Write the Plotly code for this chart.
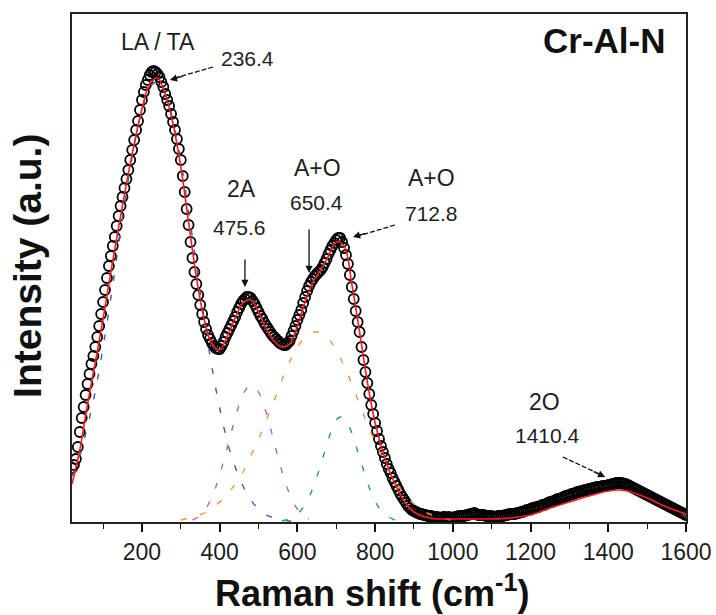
import plotly.graph_objects as go

# ---- measured spectrum (Raman shift cm-1, intensity a.u.) ----
shift = list(range(20, 1601, 5))
intensity = [
    54, 57, 63, 75, 90, 104, 115, 127, 138, 148, 158, 166, 175, 185, 196, 208, 220, 232, 244, 256,   # 20-115
    266, 276, 285, 296, 306, 316, 325, 334, 343, 352, 362, 372, 382, 392, 401, 412, 422, 430, 437, 442,  # 120-215
    447, 450, 451, 450, 448, 445, 440, 435, 428, 422, 416, 408, 400, 392, 383, 373, 362, 346, 330, 313,  # 220-315
    297, 280, 264, 250, 238, 227, 217, 208, 200, 193, 187, 183, 179, 176, 174, 173, 173, 176, 180, 185,  # 320-415
    189, 193, 197, 201, 205, 210, 214, 218, 221, 223, 225, 225, 224, 221, 218, 214, 210, 206, 203, 199,  # 420-515
    196, 193, 190, 187, 185, 183, 181, 179, 178, 177, 177, 179, 181, 186, 191, 196, 202, 207, 212, 219,  # 520-615
    225, 231, 236, 240, 243, 246, 248, 250, 252, 255, 259, 263, 268, 272, 276, 279, 282, 284, 284, 280,  # 620-715
    274, 267, 258, 247, 235, 223, 211, 200, 190, 175, 162, 150, 139, 128, 117, 108, 99, 91, 83, 76,      # 720-815
    70, 64, 58, 53, 49, 44, 40, 36, 32, 28, 25, 22, 19, 16, 14, 12, 11, 10, 9, 8,                        # 820-915
    8, 7, 7, 6, 6, 6, 5, 5, 5, 4, 4, 5, 5, 4, 5, 4, 4, 5, 5, 6,                                          # 920-1015
    6, 6, 6, 7, 7, 8, 8, 9, 8, 7, 7, 7, 7, 6, 6, 6, 6, 5, 5, 6,                                          # 1020-1115
    6, 6, 6, 7, 7, 8, 8, 8, 8, 9, 9, 10, 10, 11, 12, 12, 13, 14, 14, 15,                                 # 1120-1215
    15, 16, 17, 17, 18, 19, 20, 20, 21, 22, 23, 23, 24, 25, 26, 26, 27, 28, 28, 29,                      # 1220-1315
    30, 30, 31, 31, 32, 32, 33, 33, 34, 34, 35, 35, 35, 36, 36, 36, 37, 37, 38, 38,                      # 1320-1415
    39, 39, 39, 39, 38, 38, 37, 36, 35, 34, 33, 32, 31, 30, 29, 28, 27, 26, 25, 24,                      # 1420-1515
    23, 22, 21, 20, 19, 18, 17, 16, 15, 14, 13, 12, 11, 10, 9, 8, 7,                                     # 1520-1600
]

# ---- cumulative fit (red) ----
fit_x = [20, 40, 60, 80, 100, 120, 140, 160, 180, 200, 220, 240, 260, 280, 300,
         320, 340, 360, 380, 400, 420, 440, 460, 480, 500, 520, 540, 560, 580, 600,
         620, 640, 660, 680, 700, 720, 740, 760, 780, 800, 820, 840, 860, 880, 900,
         920, 940, 960, 980, 1000, 1050, 1100, 1150, 1200, 1250, 1300, 1350, 1400,
         1425, 1450, 1500, 1550, 1600]
fit_y = [38, 72, 118, 160, 203, 250, 295, 338, 378, 413, 438, 444, 428, 398, 355,
         300, 245, 203, 178, 172, 186, 204, 219, 222, 210, 193, 181, 175, 178, 196,
         220, 240, 252, 266, 280, 276, 238, 190, 140, 99, 70, 48, 31, 18, 10,
         6, 4, 3, 3, 3, 3, 3, 4, 7, 14, 20, 26, 31,
         32, 31, 24, 15, 8]

# ---- component peaks (dashed) ----
la_x = [20, 40, 60, 80, 100, 120, 140, 160, 180, 200, 220, 240, 260, 280, 300,
        320, 340, 360, 380, 400, 420, 440, 460, 480, 500, 520, 540, 560, 580, 600]
la_y = [46, 66, 96, 131, 175, 224, 278, 330, 376, 412, 435, 440, 428, 401, 361,
        311, 257, 204, 155, 114, 80, 55, 36, 22, 13, 7, 4, 2, 1, 0]

a2_x = list(range(330, 631, 10))
a2_y = [2, 4, 7, 11, 17, 25, 35, 47, 61, 75, 90, 104, 117, 127, 134, 137,
        135, 130, 121, 109, 95, 80, 65, 51, 38, 28, 19, 13, 8, 5, 3]

ao1_x = list(range(300, 1001, 20))
ao1_y = [2, 4, 6, 9, 14, 20, 28, 38, 50, 66, 83, 102, 121, 142, 160, 175, 185,
         190, 189, 183, 172, 156, 138, 118, 98, 80, 63, 48, 36, 26, 18, 12, 8, 5, 3, 2]

ao2_x = list(range(560, 871, 10))
ao2_y = [1, 2, 3, 5, 8, 12, 18, 25, 34, 45, 57, 70, 83, 94, 102, 105, 104, 98,
         89, 77, 65, 52, 40, 29, 21, 14, 9, 6, 4, 2, 1, 1]

# ---- peak labels ----
peak_names = ["LA / TA", "2A", "A+O", "A+O", "2O"]
peak_pos = ["236.4", "475.6", "650.4", "712.8", "1410.4"]
x_ticks = [200, 400, 600, 800, 1000, 1200, 1400, 1600]

fig = go.Figure()

fig.add_trace(go.Scatter(
    x=shift, y=intensity, mode="markers",
    marker=dict(symbol="circle-open", size=10, color="black", line=dict(width=1.8)),
    showlegend=False, hoverinfo="skip"))

comp_styles = [("#3a5cb5", la_x, la_y), ("#b060c0", a2_x, a2_y),
               ("#ff8c3a", ao1_x, ao1_y), ("#1f9a9a", ao2_x, ao2_y)]
for col, xs, ys in comp_styles:
    fig.add_trace(go.Scatter(
        x=xs, y=ys, mode="lines",
        line=dict(color=col, width=1.4, dash="6px,14px", shape="spline"),
        showlegend=False, hoverinfo="skip"))

fig.add_trace(go.Scatter(
    x=fit_x, y=fit_y, mode="lines", line=dict(color="#ff1a1a", width=1.6, shape="spline"),
    showlegend=False, hoverinfo="skip"))

FONT = "Liberation Sans, Arial, sans-serif"
TXT = "#1e1e1e"

def label(x, y, text, size):
    fig.add_annotation(x=x, y=y, xref="x", yref="y", text=text, showarrow=False,
                       xanchor="center", yanchor="middle",
                       font=dict(family=FONT, size=size, color=TXT))

def arrow(x0, y0, x1, y1):
    fig.add_annotation(x=x1, y=y1, ax=x0, ay=y0, xref="x", yref="y", axref="x", ayref="y",
                       text="", showarrow=True, arrowhead=2, arrowsize=1.1,
                       arrowwidth=1.3, arrowcolor="#111111")

def dashed_arrow(x0, y0, x1, y1, hx, hy, dx, dy):
    fig.add_shape(type="line", x0=x0, y0=y0, x1=x1, y1=y1, xref="x", yref="y",
                  line=dict(color="#111111", width=1.3, dash="5px,2px"))
    fig.add_annotation(x=hx, y=hy, ax=dx, ay=dy, xref="x", yref="y",
                       text="", showarrow=True, arrowhead=2, arrowsize=1.1,
                       arrowwidth=1.3, arrowcolor="#111111")

label(241, 480, peak_names[0], 23)
label(472, 464, peak_pos[0], 21)
dashed_arrow(383, 455, 276, 443, 272, 442, 14, -4)

label(457, 333, peak_names[1], 23)
label(450, 295, peak_pos[1], 21)
arrow(465, 264, 465, 235)

label(652, 354, peak_names[2], 23)
label(648, 320, peak_pos[2], 21)
arrow(630, 294, 630, 249)

label(946, 344, peak_names[3], 23)
label(944, 309, peak_pos[3], 21)
dashed_arrow(851, 297, 748, 285, 743, 285, 14, -4)

label(1235, 120, peak_names[4], 23)
label(1244, 87, peak_pos[4], 21)
dashed_arrow(1283, 65, 1388, 46, 1392, 45, -13, -6)

fig.add_annotation(x=0.969, y=0.947, xref="paper", yref="paper", xanchor="right", yanchor="middle",
                   text="<b>Cr-Al-N</b>", showarrow=False,
                   font=dict(family=FONT, size=35, color="#111111"))

fig.add_annotation(x=0.489, y=-0.136, xref="paper", yref="paper", yanchor="middle", xanchor="center",
                   text="<b>Raman shift (cm<sup>-1</sup>)</b>", showarrow=False,
                   font=dict(family=FONT, size=36, color="#111111"))
fig.add_annotation(x=-0.0717, y=0.504, xref="paper", yref="paper", xanchor="center", yanchor="middle",
                   text="<b>Intensity (a.u.)</b>", textangle=-90, showarrow=False,
                   font=dict(family=FONT, size=39, color="#111111"))

fig.update_layout(
    template="none",
    width=716, height=615,
    margin=dict(l=72, r=30, t=14, b=93, autoexpand=False),
    paper_bgcolor="white", plot_bgcolor="white",
    font=dict(family=FONT, color=TXT),
)
fig.update_xaxes(
    automargin=False,
    range=[20, 1600], tickvals=x_ticks, ticktext=[str(v) for v in x_ticks],
    ticks="outside", ticklen=8, tickwidth=1.5, tickcolor="#111111",
    minor=dict(tickvals=[100, 300, 500, 700, 900, 1100, 1300, 1500], ticks="outside",
               ticklen=5, tickwidth=1.3, tickcolor="#111111", showgrid=False),
    showline=True, linecolor="#222222", linewidth=1.8, mirror=True,
    showgrid=False, zeroline=False,
    tickfont=dict(family=FONT, size=23, color=TXT),
)
fig.update_yaxes(
    automargin=False,
    range=[0, 508], showticklabels=False, ticks="",
    showline=True, linecolor="#222222", linewidth=1.8, mirror=True,
    showgrid=False, zeroline=False,
)

fig.write_html("out.html", config={"displayModeBar": False},
               post_script="document.body.style.margin='0';document.body.style.overflow='hidden';")
